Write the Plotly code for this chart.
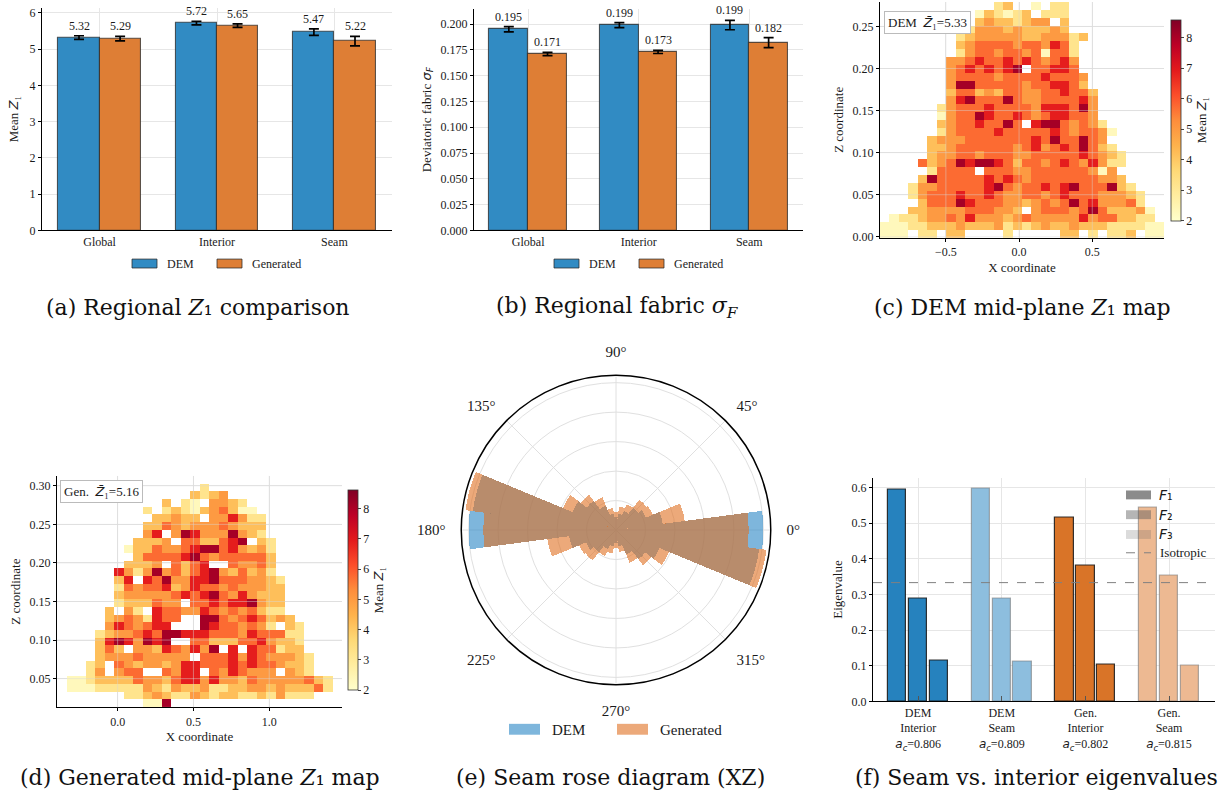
import numpy as np
import plotly.graph_objects as go

W, H = 1225, 805
SERIF = "Liberation Serif"
CAPF = "DejaVu Serif"
MATH = "DejaVu Sans"
GRID = "#e6e6e6"
TXT = "#1a1a1a"


def m(s):
    return f'<span style="font-family:{MATH}"><i>{s}</i></span>'


def px(x):
    return x / W


def py(y):
    return 1 - y / H


Z1 = m("Z") + "₁"

# ---------------- (a) / (b) data ----------------
regions = ["Global", "Interior", "Seam"]
z1_dem = [5.32, 5.72, 5.47]
z1_gen = [5.29, 5.65, 5.22]
z1_dem_err = [0.05, 0.05, 0.09]
z1_gen_err = [0.06, 0.05, 0.13]
sf_dem = [0.195, 0.199, 0.199]
sf_gen = [0.171, 0.173, 0.182]
sf_dem_err = [0.0025, 0.0024, 0.0045]
sf_gen_err = [0.0016, 0.0015, 0.0048]

# ---------------- heat-map cell levels ----------------
level_value = {"2": 2.3, "3": 3.2, "4": 4.2, "5": 5.0, "6": 5.75, "7": 6.9, "8": 8.1}

# (c) DEM mid-plane map, rows top -> bottom, '.' = empty cell
dem_map_rows = [
    "............34..2.33..........",
    ".........." + "243234.333" + "..........",
    ".........." + "45443455.4" + "..........",
    "........." + "35554544454" + "..........",
    "........" + "34555554455534" + "........",
    "........" + "4566665665763" + ".........",
    "........" + "3566566562663" + ".........",
    "......." + "55676676765675" + ".........",
    "......." + "56767678.66776" + ".........",
    "......." + "566665666676665" + "........",
    "......." + "588666665667764" + "........",
    "......." + "4664546655667664" + ".......",
    "......." + "5786668655666675" + ".......",
    "......" + "35666766665777685" + ".......",
    "......" + "25668766765677665" + ".......",
    "......" + "456676686.78865653" + "......",
    "......" + "3566667666667656652" + ".....",
    "....." + "4555666666676866865." + ".....",
    "....." + "44566666656756768643" + ".....",
    "....." + "455665666556666676543" + "....",
    "...." + "6456878876466567657533" + "....",
    "....." + "36666.66655666666525" + ".....",
    "...." + "4866666767656666666554" + "....",
    "..." + "355666667865667678666843" + "...",
    "..." + "3566676676556656766655543" + "..",
    "...." + "466687666554565686755563" + "..",
    "..." + "445555666554.5666568644452" + ".",
    "." + "2334556575554565555575664433" + ".",
    "222334445444534345445444333322",
    "222.33.44....3.....44.3.334.22",
]
dem_x_edges = (-0.95, 0.99)
dem_z_edges = (-0.001, 0.279)
dem_mean = 5.33

# (d) Generated mid-plane map
gen_map_rows = [
    "." * 30,
    "." * 15 + "3" + "." * 14,
    "." * 14 + "4345" + "." * 12,
    "." * 11 + "4.32.5543" + "." * 10,
    "." * 9 + "3.3432456422" + "." * 9,
    "." * 10 + "44544.557533" + "." * 8,
    "." * 9 + "4465455565444" + "." * 8,
    "." * 9 + "57.5875558543" + "." * 8,
    "." * 8 + "4445.6644678.43" + "." * 7,
    "." * 7 + "2446556788675453" + "." * 7,
    "." * 8 + "466667865666664" + "." * 7,
    "." * 7 + "4445.6467..65564" + "." * 7,
    "." * 6 + "75358564678546453" + "." * 7,
    "." * 6 + "47.768557786665543" + "." * 6,
    "." * 6 + "365667457665655544" + "." * 6,
    "." * 6 + "455555676786575444" + "." * 6,
    "." * 6 + "3444655.6676778544" + "." * 6,
    "." * 5 + "4.53.76655765656433." + "." * 5,
    "." * 5 + "45653766..8865676454" + "." * 5,
    "." * 5 + "5765677...87665653.43" + "." * 4,
    "." * 4 + "3455676887776665766633" + "." * 4,
    "." * 4 + "47875878..664446675443" + "." * 4,
    "." * 4 + "464.554765758.7.766344" + "." * 4,
    "." * 4 + "4555655555.666757655543" + "." * 3,
    "." * 3 + "34.654554577666767665443" + "." * 3,
    "." * 3 + "35.566..6577.6576555.543." + "." * 2,
    "." + "2234444655467757554655555643" + ".",
    "." + "2223333354354453344554544463" + ".",
    "." * 7 + "33454335434433435333" + "." * 3,
    "." * 9 + "228" + "." * 18,
]
gen_x_edges = (-0.40, 1.48)
gen_z_edges = (0.0128, 0.3128)
gen_mean = 5.16

# ---------------- (e) rose diagram (24 bins of 15 deg) ----------------
rose_bin_deg = 15
rose_dem = [5.0, 1.6, 1.1, 0.95, 0.7, 0.55, 0.45, 0.55, 0.9, 1.25, 1.6, 4.9,
            5.0, 1.6, 1.1, 0.95, 0.7, 0.55, 0.45, 0.55, 0.9, 1.25, 1.6, 4.9]
rose_gen = [4.5, 2.35, 1.35, 1.3, 0.95, 0.8, 0.6, 0.75, 1.2, 1.5, 1.95, 5.15,
            4.5, 2.35, 1.35, 1.3, 0.95, 0.8, 0.6, 0.75, 1.2, 1.5, 1.95, 5.15]

# ---------------- (f) eigenvalues ----------------
eig_groups = ["DEM<br>Interior", "DEM<br>Seam", "Gen.<br>Interior", "Gen.<br>Seam"]
eig_ac = [0.806, 0.809, 0.802, 0.815]
eig_F1 = [0.595, 0.596, 0.517, 0.545]
eig_F2 = [0.288, 0.288, 0.380, 0.353]
eig_F3 = [0.114, 0.113, 0.102, 0.100]
isotropic = 1 / 3

# ---------------- styles ----------------
C_BLUE = "#318BC3"
C_ORNG = "#DE7E35"
EDGE = "rgba(40,40,40,0.75)"
F_COLORS = ["#2682BE", "#8DBEDE", "#D97428", "#EDB992"]
F_EDGES = ["rgba(30,30,30,0.9)", "rgba(120,120,120,0.6)", "rgba(30,30,30,0.9)", "rgba(120,120,120,0.6)"]
YLORRD = ["#ffffcc", "#ffeda0", "#fed976", "#feb24c", "#fd8d3c", "#fc4e2a", "#e31a1c", "#bd0026", "#800026"]
cscale = [[i / (len(YLORRD) - 1), c] for i, c in enumerate(YLORRD)]

fig = go.Figure()

# ---- (a) and (b) bars ----
xi = np.arange(len(regions))
off, bw = 0.175, 0.35
for (dem, gen, de, ge, xa, ya, fmt) in [
    (z1_dem, z1_gen, z1_dem_err, z1_gen_err, "x", "y", "{:.2f}"),
    (sf_dem, sf_gen, sf_dem_err, sf_gen_err, "x2", "y2", "{:.3f}"),
]:
    for vals, errs, col, sgn in [(dem, de, C_BLUE, -1), (gen, ge, C_ORNG, 1)]:
        fig.add_trace(go.Bar(
            x=xi + sgn * off, y=vals, width=bw, xaxis=xa, yaxis=ya, showlegend=False,
            marker=dict(color=col, line=dict(color=EDGE, width=1.1)),
            error_y=dict(type="data", array=errs, color="black", thickness=1.7, width=5),
        ))
        for xv, v, e in zip(xi + sgn * off, vals, errs):
            fig.add_annotation(x=xv, y=v + e, xref=xa, yref=ya, text=fmt.format(v),
                               showarrow=False, yanchor="bottom", yshift=1,
                               font=dict(family=SERIF, size=12, color=TXT))


# ---- (c) and (d) heatmaps ----
def parse(rows):
    return [[None if ch == "." else level_value[ch] for ch in r] for r in rows[::-1]]


for rows, xe, ze, xa, ya, cbx, cby0, cby1 in [
    (dem_map_rows, dem_x_edges, dem_z_edges, "x3", "y3", px(1171), 18, 221),
    (gen_map_rows, gen_x_edges, gen_z_edges, "x4", "y4", px(348), 494, 696),
]:
    ncol = len(rows[0])
    nrow = len(rows)
    fig.add_trace(go.Heatmap(
        z=parse(rows), x=np.linspace(xe[0], xe[1], ncol + 1), y=np.linspace(ze[0], ze[1], nrow + 1),
        xaxis=xa, yaxis=ya, colorscale=cscale, zmin=2.0, zmax=8.6, hoverongaps=False,
        colorbar=dict(x=cbx, xanchor="left", xpad=0, ypad=0, y=py(cby1), yanchor="bottom",
                      len=(cby1 - cby0) / H, thickness=10,
                      outlinewidth=0.8, outlinecolor="#333", ticks="outside", ticklen=3,
                      tickvals=[2, 3, 4, 5, 6, 7, 8],
                      tickfont=dict(family=SERIF, size=12, color=TXT),
                      title=dict(text="Mean " + Z1, side="right",
                                 font=dict(family=SERIF, size=13, color=TXT))),
    ))

# faint grid lines drawn over the maps (as in the reference)
for xa, ya, xt, yt in [("x3", "y3", [-0.5, 0.0, 0.5], [0.0, 0.05, 0.10, 0.15, 0.20, 0.25]),
                       ("x4", "y4", [0.0, 0.5, 1.0], [0.05, 0.10, 0.15, 0.20, 0.25, 0.30])]:
    for v in xt:
        fig.add_shape(type="line", xref=xa, yref=f"{ya} domain", x0=v, x1=v, y0=0, y1=1,
                      line=dict(color="rgba(215,215,215,0.45)", width=1))
    for v in yt:
        fig.add_shape(type="line", xref=f"{xa} domain", yref=ya, x0=0, x1=1, y0=v, y1=v,
                      line=dict(color="rgba(215,215,215,0.45)", width=1))

# ---- (e) rose ----
rose_theta = np.arange(0, 360, rose_bin_deg)
fig.add_trace(go.Barpolar(r=rose_dem, theta=rose_theta, width=rose_bin_deg, subplot="polar",
                          marker=dict(color="rgba(40,134,196,0.6)", line=dict(width=0)), showlegend=False))
fig.add_trace(go.Barpolar(r=rose_gen, theta=rose_theta, width=rose_bin_deg, subplot="polar",
                          marker=dict(color="rgba(224,112,34,0.6)", line=dict(width=0)), showlegend=False))

# ---- (f) eigenvalue bars ----
f_off = np.array([-0.25, 0.0, 0.25])
for i in range(len(eig_groups)):
    fig.add_trace(go.Bar(
        x=i + f_off, y=[eig_F1[i], eig_F2[i], eig_F3[i]], width=0.22, xaxis="x5", yaxis="y5",
        showlegend=False, marker=dict(color=F_COLORS[i], line=dict(color=F_EDGES[i], width=1.2)),
    ))

fig.add_shape(type="line", xref="x5 domain", yref="y5", x0=0, x1=1, y0=isotropic, y1=isotropic,
              line=dict(color="#808080", width=1, dash="dash"))

# ---------------- axes ----------------
tickf = dict(family=SERIF, size=12, color=TXT)
titf = dict(family=SERIF, size=13, color=TXT)
base = dict(showline=True, linecolor="black", linewidth=1, gridcolor=GRID, gridwidth=1,
            zeroline=False, tickfont=tickf, ticks="outside", ticklen=3, tickcolor="black")

layout = dict(
    width=W, height=H, margin=dict(l=0, r=0, t=0, b=0),
    paper_bgcolor="white", plot_bgcolor="white", bargap=0, barmode="overlay",
    font=dict(family=SERIF, color=TXT, size=12),
    xaxis=dict(base, domain=[px(42), px(392)], range=[-0.49, 2.49], tickvals=list(xi), ticktext=regions,
               ticks="", anchor="y"),
    yaxis=dict(base, domain=[py(231), py(5.9)], range=[0, 6.14], dtick=1, anchor="x",
               title=dict(text="Mean " + Z1, font=titf, standoff=8)),
    xaxis2=dict(base, domain=[px(474), px(803)], range=[-0.49, 2.486], tickvals=list(xi), ticktext=regions,
                ticks="", anchor="y2"),
    yaxis2=dict(base, domain=[py(231), py(7)], range=[0, 0.2147], dtick=0.025, tickformat=".3f", anchor="x2",
                title=dict(text="Deviatoric fabric " + m("σ") + "<sub>" + m("F") + "</sub>", font=titf, standoff=6)),
    xaxis3=dict(base, domain=[px(880), px(1164)], range=list(dem_x_edges), tickvals=[-0.5, 0, 0.5],
                tickformat=".1f", anchor="y3", title=dict(text="X coordinate", font=titf, standoff=4)),
    yaxis3=dict(base, domain=[py(238.3), 1.0], range=list(dem_z_edges), dtick=0.05, tickformat=".2f",
                anchor="x3", title=dict(text="Z coordinate", font=titf, standoff=6)),
    xaxis4=dict(base, domain=[px(57), px(342)], range=list(gen_x_edges), tickvals=[0, 0.5, 1.0],
                tickformat=".1f", anchor="y4", title=dict(text="X coordinate", font=titf, standoff=4)),
    yaxis4=dict(base, domain=[py(713.3), py(479.3)], range=list(gen_z_edges),
                tickvals=[0.05, 0.10, 0.15, 0.20, 0.25, 0.30], tickformat=".2f",
                anchor="x4", title=dict(text="Z coordinate", font=titf, standoff=6)),
    xaxis5=dict(base, domain=[px(873), px(1215)], range=[-0.54, 3.55], tickvals=list(range(len(eig_groups))),
                ticktext=[f"{g}<br>{m('a')}<sub>{m('c')}</sub>={a:.3f}" for g, a in zip(eig_groups, eig_ac)],
                ticks="inside", ticklen=5, tickcolor="#555", anchor="y5"),
    yaxis5=dict(base, domain=[py(707.3), py(481)], range=[0, 0.628], dtick=0.1, tickformat=".1f", anchor="x5",
                title=dict(text="Eigenvalue", font=titf, standoff=6)),
    polar=dict(
        domain=dict(x=[px(459.5), px(772.5)], y=[py(690.5), py(377.5)]),
        bgcolor="white", barmode="overlay",
        radialaxis=dict(range=[0, 5.25], tickvals=[1, 2, 3, 4, 5], showticklabels=False, ticks="",
                        showline=False, gridcolor="#e0e0e0", gridwidth=1),
        angularaxis=dict(tickvals=[0, 45, 90, 135, 180, 225, 270, 315],
                         ticktext=["0°", "45°", "90°", "135°", "180°", "225°", "270°", "315°"],
                         direction="counterclockwise", rotation=0, showline=True, linecolor="black",
                         linewidth=1.5, gridcolor="#e0e0e0", gridwidth=1, ticks="outside", ticklen=12,
                         tickcolor="rgba(0,0,0,0)", tickfont=dict(family=SERIF, size=15, color=TXT)),
    ),
)
fig.update_layout(**layout)

# ---------------- in-plot boxes ----------------
fig.add_annotation(xref="paper", yref="paper", x=px(884), y=py(9), xanchor="left", yanchor="top",
                   text="DEM  " + m("Z̄") + f"₁={dem_mean:.2f}",
                   showarrow=False, bgcolor="white", bordercolor="#bbbbbb", borderwidth=1, borderpad=3,
                   font=dict(family=SERIF, size=13, color=TXT))
fig.add_annotation(xref="paper", yref="paper", x=px(60), y=py(483), xanchor="left", yanchor="top",
                   text="Gen.  " + m("Z̄") + f"₁={gen_mean:.2f}",
                   showarrow=False, bgcolor="white", bordercolor="#bbbbbb", borderwidth=1, borderpad=3,
                   font=dict(family=SERIF, size=13, color=TXT))


# ---------------- legends (drawn) ----------------
def patch(x0, x1, y0, y1, fill, line="rgba(0,0,0,0)", lw=0):
    fig.add_shape(type="rect", xref="paper", yref="paper", x0=px(x0), x1=px(x1), y0=py(y1), y1=py(y0),
                  fillcolor=fill, line=dict(color=line, width=lw))


def label(x, y, text, size=12, family=SERIF):
    fig.add_annotation(xref="paper", yref="paper", x=px(x), y=py(y), text=text, showarrow=False,
                       xanchor="left", yanchor="middle", font=dict(family=family, size=size, color=TXT))


patch(132, 157, 260, 269, C_BLUE, EDGE, 1)
label(165, 264.5, "DEM")
patch(217, 242, 260, 269, C_ORNG, EDGE, 1)
label(250, 264.5, "Generated")
patch(554, 579, 260, 269, C_BLUE, EDGE, 1)
label(587, 264.5, "DEM")
patch(639, 664, 260, 269, C_ORNG, EDGE, 1)
label(672, 264.5, "Generated")

patch(509, 540, 730, 741, "rgba(40,134,196,0.6)")
label(550, 736, "DEM", 15)
patch(617, 648, 730, 741, "rgba(224,112,34,0.6)")
label(658, 736, "Generated", 15)

for k, (yy, alpha) in enumerate([(498.5, 0.7), (518.5, 0.45), (538.5, 0.22)]):
    patch(1126, 1151, yy - 4.5, yy + 4.5, f"rgba(90,90,90,{alpha})")
    label(1157, yy, "<i>F</i>" + "₁₂₃"[k], 14, MATH)
fig.add_shape(type="line", xref="paper", yref="paper", x0=px(1126), x1=px(1151), y0=py(557), y1=py(557),
              line=dict(color="#808080", width=1, dash="dash"))
label(1158, 557, "Isotropic", 13)

# ---------------- captions ----------------
captions = [
    (198, 309, "(a) Regional <i>Z</i>₁ comparison"),
    (617, 309, "(b) Regional fabric <i>σ<sub>F</sub></i>"),
    (1022, 309, "(c) DEM mid-plane <i>Z</i>₁ map"),
    (200, 784, "(d) Generated mid-plane <i>Z</i>₁ map"),
    (610, 784, "(e) Seam rose diagram (XZ)"),
    (1036, 784, "(f) Seam vs. interior eigenvalues"),
]
for cx, cy, t in captions:
    fig.add_annotation(xref="paper", yref="paper", x=px(cx), y=py(cy), text=t, showarrow=False,
                       xanchor="center", yanchor="middle", font=dict(family=CAPF, size=22, color="#111"))

fig.write_html("out.html")
